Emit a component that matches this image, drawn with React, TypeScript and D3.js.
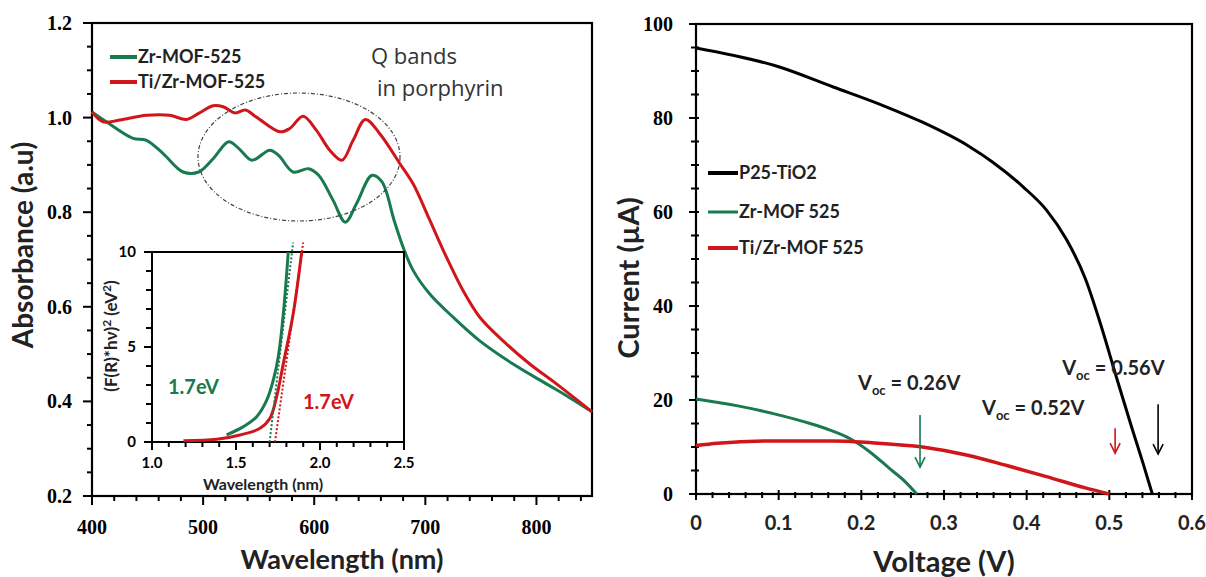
import React from 'react';
import * as d3 from 'd3';

// ---- data ----
// left panel: absorbance spectra
const zrWavelength = [400, 413, 437, 449, 464, 482, 496, 509, 523, 532, 544, 560, 568, 581, 595, 604, 617, 628, 638, 652, 661, 672, 680, 689, 704, 725, 749, 779, 809, 827, 850];
const zrAbsorbance = [1.012, 0.991, 0.956, 0.952, 0.924, 0.885, 0.885, 0.913, 0.949, 0.935, 0.910, 0.931, 0.920, 0.885, 0.892, 0.878, 0.825, 0.779, 0.818, 0.878, 0.864, 0.782, 0.726, 0.677, 0.627, 0.578, 0.528, 0.479, 0.437, 0.412, 0.378];
const tiWavelength = [400, 410, 425, 449, 470, 485, 496, 509, 518, 529, 538, 548, 569, 578, 590, 602, 614, 625, 635, 646, 659, 677, 689, 704, 719, 734, 749, 770, 794, 818, 850];
const tiAbsorbance = [1.012, 0.991, 0.995, 1.005, 1.005, 0.996, 1.009, 1.025, 1.023, 1.010, 1.016, 1.001, 0.970, 0.977, 1.003, 0.973, 0.931, 0.910, 0.952, 0.996, 0.966, 0.903, 0.860, 0.783, 0.705, 0.634, 0.578, 0.528, 0.479, 0.437, 0.378];

// inset: Tauc plot
const zrTaucE = [1.444, 1.544, 1.623, 1.683, 1.722, 1.752, 1.782, 1.811];
const zrTaucF = [0.37, 0.81, 1.33, 2.2, 3.26, 4.5, 6.77, 10];
const tiTaucE = [1.187, 1.385, 1.524, 1.643, 1.702, 1.742, 1.782, 1.841, 1.891];
const tiTaucF = [0.07, 0.14, 0.37, 0.72, 1.25, 2.39, 4.14, 6.77, 10];
const zrFitE = [1.70, 1.84];
const tiFitE = [1.732, 1.90];
const fitF = [0, 10.5];

// right panel: I-V curves
const p25V = [0, 0.10, 0.166, 0.227, 0.274, 0.330, 0.359, 0.396, 0.424, 0.448, 0.471, 0.490, 0.509, 0.527, 0.541, 0.552];
const p25I = [94.9, 90.9, 86.6, 82.6, 79.1, 74.0, 70.6, 65.3, 60.4, 54.2, 45.8, 35.8, 24.6, 14.2, 6.4, 0];
const zrV = [0, 0.049, 0.096, 0.138, 0.162, 0.186, 0.21, 0.235, 0.252, 0.267];
const zrI = [20.2, 18.8, 17.0, 15.0, 13.6, 11.8, 9.0, 5.3, 2.8, 0];
const tiV = [0, 0.026, 0.096, 0.166, 0.213, 0.274, 0.330, 0.377, 0.424, 0.471, 0.500];
const tiI = [10.3, 10.8, 11.3, 11.3, 10.9, 10.0, 8.2, 6.0, 3.7, 1.3, 0];

// Voc arrows (voltage, current from, current to) and labels
const vocArrows = [
  { v: 0.271, from: 16.8, to: 5.7, color: 'green' },
  { v: 0.507, from: 14.0, to: 8.7, color: 'red' },
  { v: 0.559, from: 19.1, to: 8.5, color: 'black' },
];
const vocLabels = [
  { v: 0.196, i: 22.1, text: '0.26V' },
  { v: 0.346, i: 16.8, text: '0.52V' },
  { v: 0.443, i: 25.3, text: '0.56V' },
];

const GREEN = '#187a4e';
const RED = '#d0161a';
const SANS = "Lato, 'Open Sans', sans-serif";
const SERIF = "'Liberation Serif', 'Times New Roman', serif";

const zip = (a: number[], b: number[]) => a.map((v, i) => [v, b[i]] as [number, number]);

export default function App() {
  // scales
  const xAbs = d3.scaleLinear().domain([400, 850]).range([92, 592]);
  const yAbs = d3.scaleLinear().domain([0.2, 1.2]).range([496, 23]);
  const xIn = d3.scaleLinear().domain([1, 2.5]).range([152, 404]);
  const yIn = d3.scaleLinear().domain([0, 10]).range([442, 252]);
  const xV = d3.scaleLinear().domain([0, 0.6]).range([696, 1192]);
  const yI = d3.scaleLinear().domain([0, 100]).range([494, 24]);

  const lineAbs = d3.line<[number, number]>().x(d => xAbs(d[0])).y(d => yAbs(d[1])).curve(d3.curveCatmullRom.alpha(0.5));
  const lineIn = d3.line<[number, number]>().x(d => xIn(d[0])).y(d => yIn(d[1])).curve(d3.curveCatmullRom.alpha(0.5));
  const lineIV = d3.line<[number, number]>().x(d => xV(d[0])).y(d => yI(d[1])).curve(d3.curveMonotoneX);

  const f1 = d3.format('.1f');

  return (
    <svg width={1206} height={577} style={{ position: 'absolute', left: 0, top: 0 }}>
      <rect width={1206} height={577} fill="#fff" />

      {/* ===== left panel ===== */}
      <rect x={92} y={23} width={500} height={473} fill="none" stroke="#000" strokeWidth={2.2} />
      {d3.range(0.2, 1.2001, 0.05).map((t, i) => (
        <line key={'lym' + i} x1={92} x2={i % 4 === 0 ? 83 : 87} y1={yAbs(t)} y2={yAbs(t)} stroke="#000" strokeWidth={2} />
      ))}
      {d3.range(400, 841, 20).map((t, i) => (
        <line key={'lxm' + i} x1={xAbs(t)} x2={xAbs(t)} y1={496} y2={i % 5 === 0 ? 505 : 501} stroke="#000" strokeWidth={2} />
      ))}
      {d3.range(0.2, 1.2001, 0.2).map((t, i) => (
        <text key={'lyl' + i} x={72} y={yAbs(t)} dy="0.35em" textAnchor="end" fontFamily={SERIF} fontWeight="bold" fontSize={20}>{f1(t)}</text>
      ))}
      {d3.range(400, 801, 100).map((t, i) => (
        <text key={'lxl' + i} x={xAbs(t)} y={534} textAnchor="middle" fontFamily={SERIF} fontWeight="bold" fontSize={20}>{t}</text>
      ))}
      <text x={342} y={569} textAnchor="middle" fontFamily={SANS} fontWeight="bold" fontSize={27} fill="#222">Wavelength (nm)</text>
      <text transform="translate(33,245) rotate(-90)" textAnchor="middle" fontFamily={SANS} fontWeight="bold" fontSize={28} fill="#222">Absorbance (a.u)</text>

      <path d={lineAbs(zip(zrWavelength, zrAbsorbance)) || ''} fill="none" stroke={GREEN} strokeWidth={3} />
      <path d={lineAbs(zip(tiWavelength, tiAbsorbance)) || ''} fill="none" stroke={RED} strokeWidth={3} />

      <ellipse cx={299} cy={157} rx={101} ry={64} fill="none" stroke="#444" strokeWidth={1.2} strokeDasharray="4 2 1 2" />
      <text x={371} y={64} fontFamily="'Open Sans', sans-serif" fontSize={22} fill="#333">Q bands</text>
      <text x={377} y={96} fontFamily="'Open Sans', sans-serif" fontSize={22} fill="#333">in porphyrin</text>

      {/* legend left */}
      <line x1={110} x2={137} y1={57} y2={57} stroke={GREEN} strokeWidth={4} />
      <text x={138} y={63} fontFamily={SANS} fontWeight="bold" fontSize={18} fill="#222">Zr-MOF-525</text>
      <line x1={110} x2={137} y1={82} y2={82} stroke={RED} strokeWidth={4} />
      <text x={138} y={88} fontFamily={SANS} fontWeight="bold" fontSize={18} fill="#222">Ti/Zr-MOF-525</text>

      {/* ===== inset ===== */}
      <rect x={152} y={252} width={252} height={190} fill="#fff" stroke="#000" strokeWidth={2} />
      {d3.range(1, 2.5001, 0.1).map((t, i) => (
        <line key={'ixm' + i} x1={xIn(t)} x2={xIn(t)} y1={442} y2={i % 5 === 0 ? 450 : 447} stroke="#000" strokeWidth={2} />
      ))}
      {d3.range(0, 10.001, 1).map((t, i) => (
        <line key={'iym' + i} x1={152} x2={i % 5 === 0 ? 144 : 146} y1={yIn(t)} y2={yIn(t)} stroke="#000" strokeWidth={2} />
      ))}
      {[1, 1.5, 2, 2.5].map((t, i) => (
        <text key={'ixl' + i} x={xIn(t)} y={468} textAnchor="middle" fontFamily={SANS} fontWeight="bold" fontSize={15}>{f1(t)}</text>
      ))}
      {[0, 5, 10].map((t, i) => (
        <text key={'iyl' + i} x={136} y={yIn(t)} dy="0.35em" textAnchor="end" fontFamily={SANS} fontWeight="bold" fontSize={15}>{t}</text>
      ))}
      <text x={263} y={490} textAnchor="middle" fontFamily={SANS} fontWeight="bold" fontSize={16} fill="#222">Wavelength (nm)</text>
      <text transform="translate(117,336) rotate(-90)" textAnchor="middle" fontFamily={SANS} fontWeight="bold" fontSize={17} fill="#222">
        (F(R)*hν)<tspan dy={-6} fontSize={12}>2</tspan><tspan dy={6}> (eV</tspan><tspan dy={-6} fontSize={12}>2</tspan><tspan dy={6}>)</tspan>
      </text>
      <path d={lineIn(zip(zrTaucE, zrTaucF)) || ''} fill="none" stroke={GREEN} strokeWidth={3} />
      <path d={lineIn(zip(tiTaucE, tiTaucF)) || ''} fill="none" stroke={RED} strokeWidth={3} />
      <path d={d3.line()(zip(zrFitE, fitF).map(d => [xIn(d[0]), yIn(d[1])])) || ''} fill="none" stroke={GREEN} strokeWidth={2} strokeDasharray="2 2" />
      <path d={d3.line()(zip(tiFitE, fitF).map(d => [xIn(d[0]), yIn(d[1])])) || ''} fill="none" stroke={RED} strokeWidth={2} strokeDasharray="2 2" />
      <text x={168} y={394} fontFamily={SANS} fontWeight="bold" fontSize={20} fill={GREEN}>1.7eV</text>
      <text x={303} y={409} fontFamily={SANS} fontWeight="bold" fontSize={20} fill={RED}>1.7eV</text>

      {/* ===== right panel ===== */}
      <rect x={696} y={24} width={496} height={470} fill="none" stroke="#000" strokeWidth={2.2} />
      {d3.range(0, 100.001, 5).map((t, i) => (
        <line key={'rym' + i} x1={i % 4 === 0 ? 689 : 691} x2={699} y1={yI(t)} y2={yI(t)} stroke="#000" strokeWidth={2} />
      ))}
      {d3.range(0, 0.6001, 0.02).map((t, i) => (
        <line key={'rxm' + i} x1={xV(t)} x2={xV(t)} y1={i % 5 === 0 ? 490 : 492} y2={i % 5 === 0 ? 500 : 498} stroke="#000" strokeWidth={2} />
      ))}
      {yI.ticks(5).map((t, i) => (
        <text key={'ryl' + i} x={673} y={yI(t)} dy="0.35em" textAnchor="end" fontFamily={SERIF} fontWeight="bold" fontSize={20}>{t}</text>
      ))}
      {d3.range(0, 0.6001, 0.1).map((t, i) => (
        <text key={'rxl' + i} x={xV(t)} y={530} textAnchor="middle" fontFamily={SANS} fontWeight="bold" fontSize={20} fill="#222">{d3.format('~g')(+t.toFixed(1))}</text>
      ))}
      <text x={944} y={572} textAnchor="middle" fontFamily={SANS} fontWeight="bold" fontSize={29} fill="#222">Voltage (V)</text>
      <text transform="translate(639,278) rotate(-90)" textAnchor="middle" fontFamily={SANS} fontWeight="bold" fontSize={29} fill="#222">Current (µA)</text>

      <path d={lineIV(zip(p25V, p25I)) || ''} fill="none" stroke="#000" strokeWidth={3} />
      <path d={lineIV(zip(zrV, zrI)) || ''} fill="none" stroke={GREEN} strokeWidth={3} />
      <path d={lineIV(zip(tiV, tiI)) || ''} fill="none" stroke={RED} strokeWidth={3.5} />

      {vocArrows.map((a, i) => {
        const c = a.color === 'green' ? GREEN : a.color === 'red' ? RED : '#000';
        const x = xV(a.v);
        const y2 = yI(a.to);
        return (
          <g key={'arr' + i} stroke={c} strokeWidth={1.6} fill="none">
            <line x1={x} x2={x} y1={yI(a.from)} y2={y2} />
            <path d={`M${x - 5},${y2 - 10}L${x},${y2}L${x + 5},${y2 - 10}`} />
          </g>
        );
      })}
      {vocLabels.map((l, i) => (
        <text key={'voc' + i} x={xV(l.v)} y={yI(l.i)} fontFamily={SANS} fontWeight="bold" fontSize={20} fill="#222">
          V<tspan dy={5} fontSize={13}>oc</tspan><tspan dy={-5}> = {l.text}</tspan>
        </text>
      ))}

      {/* legend right */}
      <line x1={708} x2={738} y1={173} y2={173} stroke="#000" strokeWidth={4} />
      <text x={739} y={179} fontFamily={SANS} fontWeight="bold" fontSize={18} fill="#222">P25-TiO2</text>
      <line x1={708} x2={738} y1={212} y2={212} stroke={GREEN} strokeWidth={3} />
      <text x={739} y={218} fontFamily={SANS} fontWeight="bold" fontSize={18} fill="#222">Zr-MOF 525</text>
      <line x1={708} x2={738} y1={248} y2={248} stroke={RED} strokeWidth={4} />
      <text x={739} y={254} fontFamily={SANS} fontWeight="bold" fontSize={18} fill="#222">Ti/Zr-MOF 525</text>
    </svg>
  );
}
